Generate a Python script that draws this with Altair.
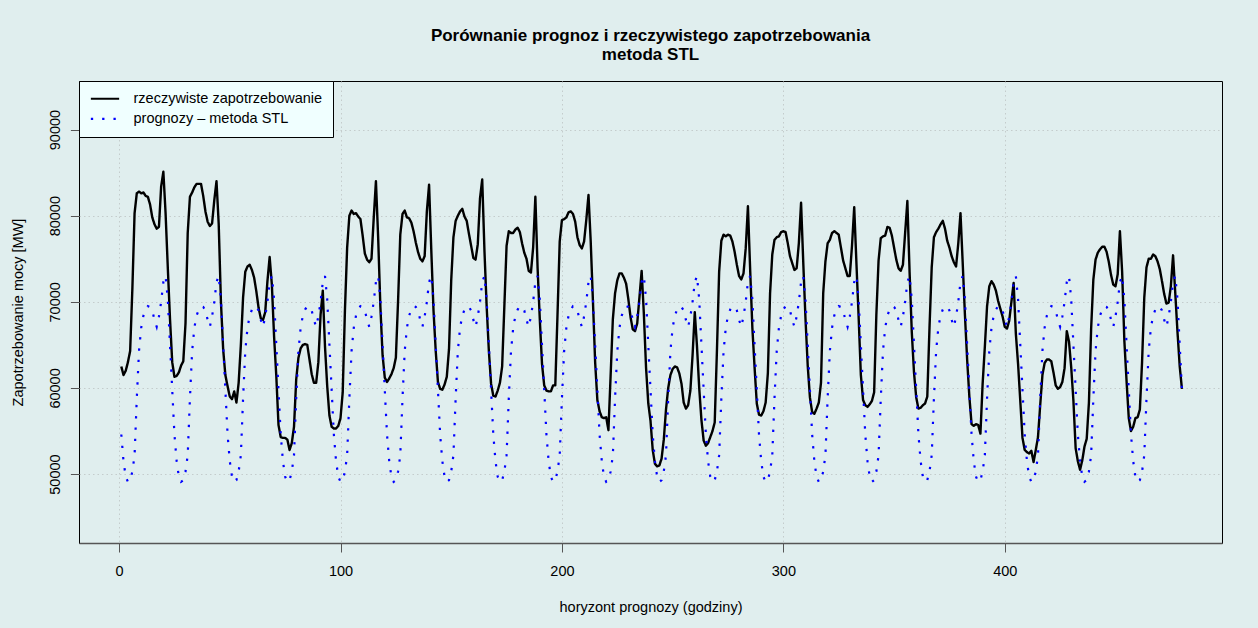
import altair as alt
import pandas as pd

# ---- data (hour 1..480) ----
hours = list(range(1, 481))

# STL forecast: one daily seasonal profile (hours 1..24), repeated every day
forecast_day = [54600, 51500, 49700, 49100, 49300, 50300, 52200, 58800, 64300, 67000, 68400, 69100,
                69500, 69400, 69000, 67900, 67100, 68300, 70000, 72300, 73000, 70300, 65000, 59800]

# actual demand, one list per day (24 hourly values)
day01 = [62500, 61500, 62000, 63000, 64300, 71500, 80300, 82600, 82800, 82600, 82700, 82300,
         82200, 81300, 79800, 79000, 78500, 78700, 83400, 85100, 80300, 74000, 68000, 63000]
day02 = [61300, 61400, 61800, 62600, 63100, 67500, 78000, 82200, 82700, 83300, 83700, 83700,
         83700, 82300, 80500, 79300, 78800, 79100, 81800, 84000, 79000, 70000, 64500, 61500]
day03 = [60200, 59000, 58700, 59600, 58300, 60600, 65000, 70500, 73500, 74100, 74300, 73700,
         72800, 71200, 69300, 68100, 67900, 68800, 72400, 75200, 72000, 66000, 61400, 55700]
day04 = [54300, 54200, 54200, 54000, 52800, 53600, 55500, 61000, 63500, 64600, 65000, 65100,
         65000, 63300, 61600, 60600, 60600, 63000, 68500, 71300, 64800, 60200, 56800, 55500]
day05 = [55300, 55300, 55600, 56500, 59500, 69000, 76300, 80000, 80600, 80200, 80300, 79900,
         79600, 77700, 75600, 74900, 74600, 75000, 79700, 84000, 77500, 69500, 63800, 61200]
day06 = [60700, 61100, 61600, 62300, 63500, 70100, 77800, 80200, 80600, 79800, 79700, 79200,
         78200, 76900, 75800, 75000, 74700, 75300, 80500, 83600, 76000, 69000, 64300, 60700]
day07 = [59900, 59800, 60400, 61300, 64500, 72500, 77500, 79400, 80000, 80500, 80800, 79900,
         79400, 77900, 76500, 75100, 74900, 76700, 82000, 84200, 76000, 69500, 64300, 60500]
day08 = [59100, 59000, 59700, 60600, 62500, 69500, 76500, 78200, 78000, 78000, 78400, 78600,
         78100, 76800, 75700, 75000, 73600, 73400, 76300, 82200, 74000, 68000, 62800, 60300]
day09 = [59700, 59600, 59600, 60300, 60300, 68500, 77000, 79500, 79600, 79800, 80400, 80500,
         80200, 79300, 77500, 76600, 76200, 77000, 79500, 82400, 77000, 70100, 63000, 58600]
day10 = [57300, 56600, 56500, 56600, 55100, 61500, 68000, 71000, 72500, 73300, 73300, 72800,
         72100, 70300, 68200, 66800, 66600, 67500, 70500, 73600, 68600, 62300, 58200, 56200]
day11 = [52800, 51200, 50900, 51000, 51800, 54000, 57500, 60000, 61500, 62200, 62500, 62400,
         61700, 60500, 58300, 57600, 58000, 59700, 63800, 68800, 64800, 60000, 56300, 53900]
day12 = [53300, 53600, 54300, 55000, 56000, 64300, 73500, 77100, 77800, 77600, 77800, 77700,
         77000, 75800, 74300, 73000, 72600, 73300, 76200, 81100, 73800, 67000, 62400, 58200]
day13 = [56900, 56800, 57300, 58300, 61700, 71000, 75500, 77200, 77500, 77600, 78100, 78200,
         78100, 76800, 75300, 74500, 73700, 73900, 76800, 81500, 74500, 68000, 62600, 58900]
day14 = [57200, 57000, 57600, 58300, 60600, 71000, 74700, 76800, 77200, 78000, 78200, 78000,
         77800, 76300, 74800, 73900, 73000, 73000, 76500, 81000, 74500, 68200, 61500, 58600]
day15 = [58000, 57800, 58100, 58500, 59500, 68500, 74800, 77400, 77600, 77700, 78700, 78600,
         77700, 76300, 74900, 73900, 73600, 74300, 78000, 81700, 73500, 66500, 61800, 58900]
day16 = [57600, 57700, 58000, 58200, 59000, 67000, 74000, 77500, 78100, 78500, 79000, 79400,
         78500, 77100, 76300, 75300, 74600, 74100, 76800, 80300, 74500, 68500, 63300, 59000]
day17 = [55800, 55600, 55800, 55700, 54700, 60500, 64800, 69500, 71800, 72400, 72000, 71300,
         70100, 69200, 68300, 67100, 66900, 67800, 70000, 72200, 66300, 62800, 58500, 54200]
day18 = [52800, 52550, 52400, 52700, 51400, 52800, 54300, 58000, 61500, 62900, 63300, 63300,
         63100, 61800, 60300, 59900, 60100, 60700, 62300, 66600, 65400, 62400, 58500, 53000]
day19 = [51500, 50500, 51600, 53200, 54100, 58300, 66900, 72600, 74900, 75700, 76100, 76400,
         76400, 75800, 74600, 73100, 72000, 71800, 73200, 78200, 73500, 65500, 60800, 56500]
day20 = [55000, 55500, 56500, 56600, 57500, 63000, 70500, 74000, 75000, 75000, 75500, 75300,
         74700, 73800, 72400, 70900, 69800, 69900, 71800, 75400, 71000, 66500, 62500, 59900]

actual = (day01 + day02 + day03 + day04 + day05 + day06 + day07 + day08 + day09 + day10 +
          day11 + day12 + day13 + day14 + day15 + day16 + day17 + day18 + day19 + day20)
forecast = forecast_day * 20

LAB_ACT = "rzeczywiste zapotrzebowanie"
LAB_FC = "prognozy \u2013 metoda STL"
series_names = [LAB_ACT, LAB_FC]
x_ticks = [0, 100, 200, 300, 400]
y_ticks = [50000, 60000, 70000, 80000, 90000]

df_act = pd.DataFrame({"godzina": hours, "moc": actual, "seria": LAB_ACT})
df_fc = pd.DataFrame({"godzina": hours, "moc": forecast, "seria": LAB_FC})

FONT = "Liberation Sans"

legend = alt.Legend(
    title=None, orient="none", legendX=0, legendY=0,
    fillColor="#F0FFFF", strokeColor="#000000", cornerRadius=0,
    padding=10.5, rowPadding=4.2, clipHeight=14.5,
    symbolType="stroke", symbolSize=800,
    symbolStrokeWidth=2.2, labelOffset=13, labelFont=FONT, labelFontSize=14.5,
    labelColor="#000000", labelLimit=400,
)

x_enc = alt.X(
    "godzina:Q",
    scale=alt.Scale(domain=[-18.1, 498.1], nice=False, zero=False),
    axis=alt.Axis(
        values=x_ticks, format="d", title="horyzont prognozy (godziny)",
        tickSize=9, labelPadding=23, labelBaseline="alphabetic", labelAlign="center",
        labelFlush=False, labelOverlap=False,
        titleX=571.5, titleY=68, titleAlign="center", titleBaseline="alphabetic",
        domainColor="#555555", domainWidth=1.5, grid=True,
    ),
)
y_enc = alt.Y(
    "moc:Q",
    scale=alt.Scale(domain=[42000, 95640], nice=False, zero=False),
    axis=alt.Axis(
        values=y_ticks, format="d", title="Zapotrzebowanie mocy [MW]",
        tickSize=8.6, labelAngle=270, labelAlign="center", labelBaseline="alphabetic",
        labelPadding=11.4, labelFlush=False, labelOverlap=False,
        titleAngle=270, titleX=-57, titleY=231, titleAlign="center", titleBaseline="alphabetic",
        domain=False, grid=True,
    ),
)
color_enc = alt.Color("seria:N", scale=alt.Scale(domain=series_names, range=["#000000", "#0000FF"]),
                      legend=legend)
dash_enc = alt.StrokeDash("seria:N", scale=alt.Scale(domain=series_names, range=[[1, 0], [2.3, 9]]),
                          legend=legend)

line_act = alt.Chart(df_act).mark_line(strokeWidth=2.4, strokeJoin="round", clip=True).encode(
    x=x_enc, y=y_enc, color=color_enc, strokeDash=dash_enc
)
line_fc = alt.Chart(df_fc).mark_line(strokeWidth=2.2, strokeCap="butt", clip=True).encode(
    x=x_enc, y=y_enc, color=color_enc, strokeDash=dash_enc
)

chart = (
    alt.layer(line_act, line_fc)
    .properties(
        width=1143, height=462,
        title=alt.TitleParams(
            text=["Porównanie prognoz i rzeczywistego zapotrzebowania", "metoda STL"],
            font=FONT, fontSize=17, fontWeight="bold", color="#000000",
            anchor="middle", frame="group", offset=17, lineHeight=18.5,
        ),
        background="#E0EEEE",
        padding={"left": 79, "top": 81, "right": 36, "bottom": 85},
        autosize=alt.AutoSizeParams(type="none"),
    )
    .configure_view(stroke="#000000", strokeWidth=1)
    .configure_axis(
        labelFont=FONT, labelFontSize=14.5, labelColor="#000000",
        titleFont=FONT, titleFontSize=14.5, titleFontWeight="normal", titleColor="#000000",
        tickColor="#555555", tickWidth=1,
        gridColor="#c4cccc", gridDash=[1.5, 3], gridWidth=1,
    )
)

chart.save("out.html", embed_options={"renderer": "svg", "actions": False})
